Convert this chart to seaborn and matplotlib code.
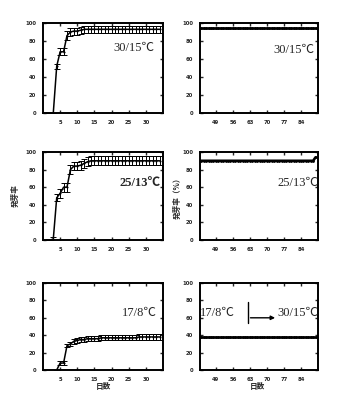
import numpy as np
import pandas as pd
import matplotlib
matplotlib.use("Agg")
import matplotlib.pyplot as plt
import seaborn as sns

sns.set_style("ticks")
plt.rcParams['font.family'] = ['Liberation Serif', 'Noto Sans CJK JP', 'DejaVu Sans']

# ---- data ----
days_left = list(range(1, 35))
top_left = [0, 0, 0, 52, 68, 68, 86, 90, 91, 91, 92, 93, 93, 93, 93, 93, 93, 93, 93, 93,
            93, 93, 93, 93, 93, 93, 93, 93, 93, 93, 93, 93, 93, 93]
top_left_err = [0, 0, 0, 3, 4, 4, 5, 4, 4, 4, 4, 4, 4, 4, 4, 4, 4, 4, 4, 4,
                4, 4, 4, 4, 4, 4, 4, 4, 4, 4, 4, 4, 4, 4]
mid_left = [0, 0, 1, 48, 53, 60, 60, 80, 84, 84, 85, 87, 89, 90, 90, 90, 90, 90, 90, 90,
            90, 90, 90, 90, 90, 90, 90, 90, 90, 90, 90, 90, 90, 90]
mid_left_err = [0, 0, 2, 4, 5, 5, 5, 5, 5, 5, 5, 5, 5, 5, 5, 5, 5, 5, 5, 5,
                5, 5, 5, 5, 5, 5, 5, 5, 5, 5, 5, 5, 5, 5]
days_bottom = list(range(4, 35))
bot_left = [0, 8, 8, 28, 30, 33, 34, 35, 35, 36, 36, 36, 36, 37, 37, 37, 37, 37, 37, 37,
            37, 37, 37, 37, 38, 38, 38, 38, 38, 38, 38]
bot_left_err = [0, 2, 2, 2, 2, 3, 3, 3, 3, 3, 3, 3, 3, 3, 3, 3, 3, 3, 3, 3,
                3, 3, 3, 3, 3, 3, 3, 3, 3, 3, 3]

days_right = list(range(43, 91))
top_right = [94] * len(days_right)
mid_right = [90] * (len(days_right) - 1) + [94]
bot_right = [38] * len(days_right)

left_xticks = [5, 10, 15, 20, 25, 30]
right_xticks = [49, 56, 63, 70, 77, 84]
yticks = [0, 20, 40, 60, 80, 100]

fig = plt.figure(figsize=(3.39, 4.0), dpi=100)

W, H = 339, 400
def ax_at(x0, x1, y0, y1):
    return fig.add_axes([x0 / W, 1 - y1 / H, (x1 - x0) / W, (y1 - y0) / H])

rows = [(23, 113), (152, 240), (283, 370)]
axL = [ax_at(43, 163, *r) for r in rows]
axR = [ax_at(200, 318, *r) for r in rows]

def style(ax, xticks, xlim):
    ax.set_xlim(*xlim)
    ax.set_ylim(0, 100)
    ax.set_xticks(xticks)
    ax.set_yticks(yticks)
    ax.tick_params(direction='in', length=2.5, width=1.0, labelsize=3.8,
                   top=True, right=True, pad=5)
    for lab in ax.get_xticklabels() + ax.get_yticklabels():
        lab.set_fontweight('bold')
        lab.set_family('DejaVu Sans')
    for s in ax.spines.values():
        s.set_linewidth(1.4)
        s.set_color('black')
    ax.set_xlabel('')
    ax.set_ylabel('')

left_data = [(days_left, top_left, top_left_err),
             (days_left, mid_left, mid_left_err),
             (days_bottom, bot_left, bot_left_err)]
for ax, (d, v, e) in zip(axL, left_data):
    df = pd.DataFrame({'day': d, 'rate': v})
    sns.lineplot(data=df, x='day', y='rate', ax=ax, color='black', lw=1.1,
                 marker='o', markersize=1.5, markeredgewidth=0, errorbar=None)
    ax.errorbar(d, v, yerr=e, fmt='none', ecolor='black', elinewidth=0.7,
                capsize=2.2, capthick=0.7)
    style(ax, left_xticks, (0, 35))

right_data = [top_right, mid_right, bot_right]
for ax, v in zip(axR, right_data):
    df = pd.DataFrame({'day': days_right, 'rate': v})
    sns.lineplot(data=df, x='day', y='rate', ax=ax, color='black', lw=1.9,
                 marker='o', markersize=2.0, markeredgewidth=0, errorbar=None)
    style(ax, right_xticks, (42.5, 91))

tfs = 9
axL[0].text(0.93, 0.72, '30/15℃', transform=axL[0].transAxes, ha='right', va='center', fontsize=tfs)
axR[0].text(0.97, 0.70, '30/15℃', transform=axR[0].transAxes, ha='right', va='center', fontsize=tfs)
axL[1].text(0.975, 0.65, '25/13℃', transform=axL[1].transAxes, ha='right', va='center', fontsize=tfs, fontweight='bold')
axR[1].text(1.0, 0.65, '25/13℃', transform=axR[1].transAxes, ha='right', va='center', fontsize=tfs)
axL[2].text(0.95, 0.655, '17/8℃', transform=axL[2].transAxes, ha='right', va='center', fontsize=tfs)
axR[2].text(0.0, 0.655, '17/8℃', transform=axR[2].transAxes, ha='left', va='center', fontsize=tfs)
axR[2].text(1.0, 0.655, '30/15℃', transform=axR[2].transAxes, ha='right', va='center', fontsize=tfs)
axR[2].plot([0.404, 0.404], [0.54, 0.78], transform=axR[2].transAxes, color='black', lw=1.0)
axR[2].annotate('', xy=(0.66, 0.60), xytext=(0.404, 0.60), xycoords='axes fraction',
                arrowprops=dict(arrowstyle='-|>', color='black', lw=1.0, mutation_scale=6))

cjk = ['Noto Sans CJK JP', 'DejaVu Sans']
fig.text(15 / W, 1 - 196 / H, '発芽率', rotation=90, ha='center', va='center',
         fontsize=5.5, fontweight='bold', family=cjk)
fig.text(177 / W, 1 - 196 / H, '発芽率（%）', rotation=90, ha='center', va='center',
         fontsize=5.5, fontweight='bold', family=cjk)
fig.text(103 / W, 1 - 387 / H, '日数', ha='center', va='center', fontsize=5.5, fontweight='bold', family=cjk)
fig.text(257 / W, 1 - 387 / H, '日数', ha='center', va='center', fontsize=5.5, fontweight='bold', family=cjk)

fig.savefig('out.png', dpi=100, facecolor='white')
